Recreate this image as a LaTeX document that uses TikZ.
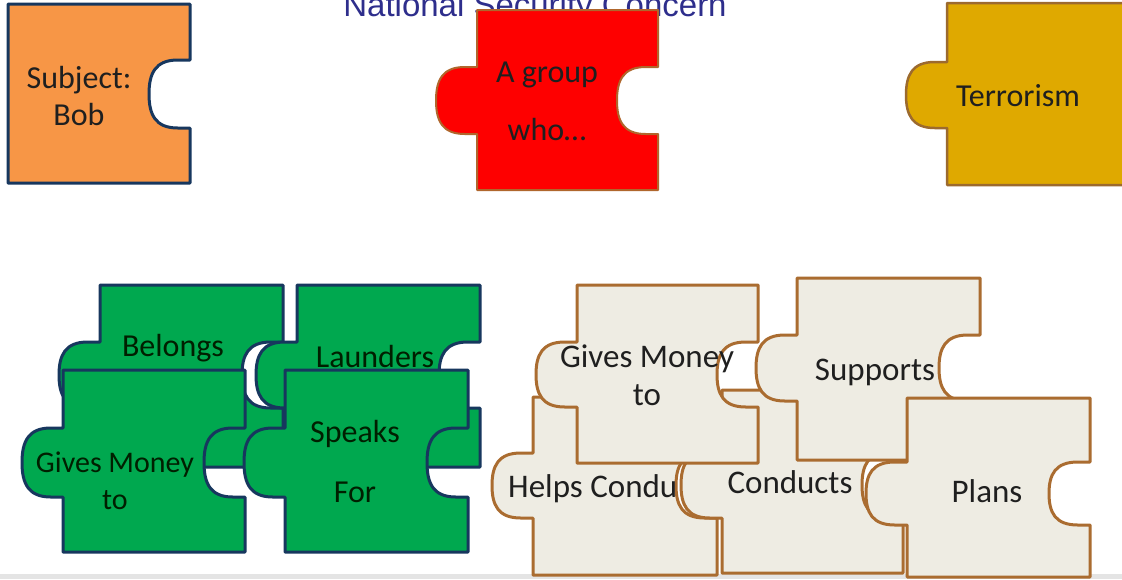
\documentclass[tikz,border=0pt]{standalone}
\usepackage{fontspec}
\setmainfont{Carlito}
\newfontfamily\titlefont{Liberation Sans}
\definecolor{navyline}{HTML}{17375E}
\definecolor{orangefill}{HTML}{F79646}
\definecolor{redfill}{HTML}{FE0000}
\definecolor{redline}{HTML}{B0662C}
\definecolor{goldfill}{HTML}{DFA900}
\definecolor{goldline}{HTML}{9C6A2E}
\definecolor{greenfill}{HTML}{00A84F}
\definecolor{beigefill}{HTML}{EEECE3}
\definecolor{beigeline}{HTML}{AA6C30}
\definecolor{titleblue}{HTML}{2E2E8C}
\definecolor{bandgray}{HTML}{E4E4E4}
\newcommand\jig[9]{%
  \pgfmathsetmacro\jdl{#7*41}%
  \pgfmathsetmacro\jdr{#8*41}%
  \pgfmathsetmacro\jym{(#5+#6)/2}%
  \pgfmathsetmacro\jq{0.2*(#6-#5)}%
  \path[#9] (#1,#2) -- (#3,#2) -- (#3,#5)
    -- ({#3+0.3*\jdr},#5) .. controls ({#3+0.85*\jdr},#5) and ({#3+\jdr},{#5+\jq}) .. ({#3+\jdr},\jym)
    .. controls ({#3+\jdr},{#6-\jq}) and ({#3+0.85*\jdr},#6) .. ({#3+0.3*\jdr},#6)
    -- (#3,#6) -- (#3,#4) -- (#1,#4) -- (#1,#6)
    -- ({#1+0.3*\jdl},#6) .. controls ({#1+0.85*\jdl},#6) and ({#1+\jdl},{#6-\jq}) .. ({#1+\jdl},\jym)
    .. controls ({#1+\jdl},{#5+\jq}) and ({#1+0.85*\jdl},#5) .. ({#1+0.3*\jdl},#5)
    -- (#1,#5) -- cycle;%
}
\begin{document}
\begin{tikzpicture}[x=1pt,y=-1pt,line join=round,
  orangepc/.style={fill=orangefill,draw=navyline,line width=3pt},
  redpc/.style={fill=redfill,draw=redline,line width=2pt},
  goldpc/.style={fill=goldfill,draw=goldline,line width=2.5pt},
  greenpc/.style={fill=greenfill,draw=navyline,line width=3pt},
  beigepc/.style={fill=beigefill,draw=beigeline,line width=3pt},
  txt/.style={font=\fontsize{32}{37}\selectfont,text=black!88,inner sep=0pt,align=center,anchor=base},
  btxt/.style={txt,font=\fontsize{33}{38}\selectfont},
  gtxt/.style={txt,text={black!80!green!60!black}},
  titletxt/.style={font=\titlefont\fontsize{33}{40}\selectfont,text=titleblue,inner sep=0pt,anchor=base}]
\clip (0,0) rectangle (1122,579);
\fill[white] (0,0) rectangle (1122,579);
\fill[bandgray] (0,574) rectangle (1122,579);
% title
\node[titletxt] (title) at (535,16) {National Security Concern};
% top row
\jig{8}{4}{190}{183}{60}{128}{0}{-1}{orangepc}
\node[txt] (subj) at (79,125) {Subject:\\Bob};
\jig{477}{10}{658}{190}{67}{134}{-1}{-1}{redpc}
\node[txt] (grp) at (547,140) {A group\\[21pt]who\dots};
\jig{947}{3}{1140}{185}{62}{128}{-1}{0}{goldpc}
\node[txt] (terr) at (1018,106) {Terrorism};
% green pieces
\jig{100}{285}{283}{467}{342}{408}{-1}{-1}{greenpc}
\node[gtxt] (belongs) at (173,356) {Belongs};
\jig{297}{285}{480}{467}{342}{408}{-1}{-1}{greenpc}
\node[gtxt] (launders) at (375,367) {Launders};
\jig{63}{370}{245}{552}{428}{497}{-1}{-1}{greenpc}
\node[gtxt,font=\fontsize{30}{37}\selectfont] (ggives) at (115,509) {Gives Money\\to};
\jig{285}{370}{468}{552}{428}{497}{-1}{-1}{greenpc}
\node[gtxt] (speaks) at (355,502) {Speaks\\[23pt]For};
% beige pieces
\jig{533}{397}{717}{575}{453}{518}{-1}{-1}{beigepc}
\node[btxt,anchor=base west] (helps) at (508,497) {Helps Condu};
\jig{722}{390}{903}{573}{452}{518}{-1}{-1}{beigepc}
\node[btxt] (conducts) at (790,493) {Conducts};
\jig{577}{285}{758}{463}{342}{407}{-1}{-1}{beigepc}
\node[btxt] (bgives) at (647,405) {Gives Money\\to};
\jig{797}{278}{980}{460}{335}{401}{-1}{-1}{beigepc}
\node[btxt] (supports) at (875,380) {Supports};
\jig{907}{398}{1090}{577}{462}{525}{-1}{-1}{beigepc}
\node[btxt] (plans) at (987,502) {Plans};
\end{tikzpicture}
\end{document}
